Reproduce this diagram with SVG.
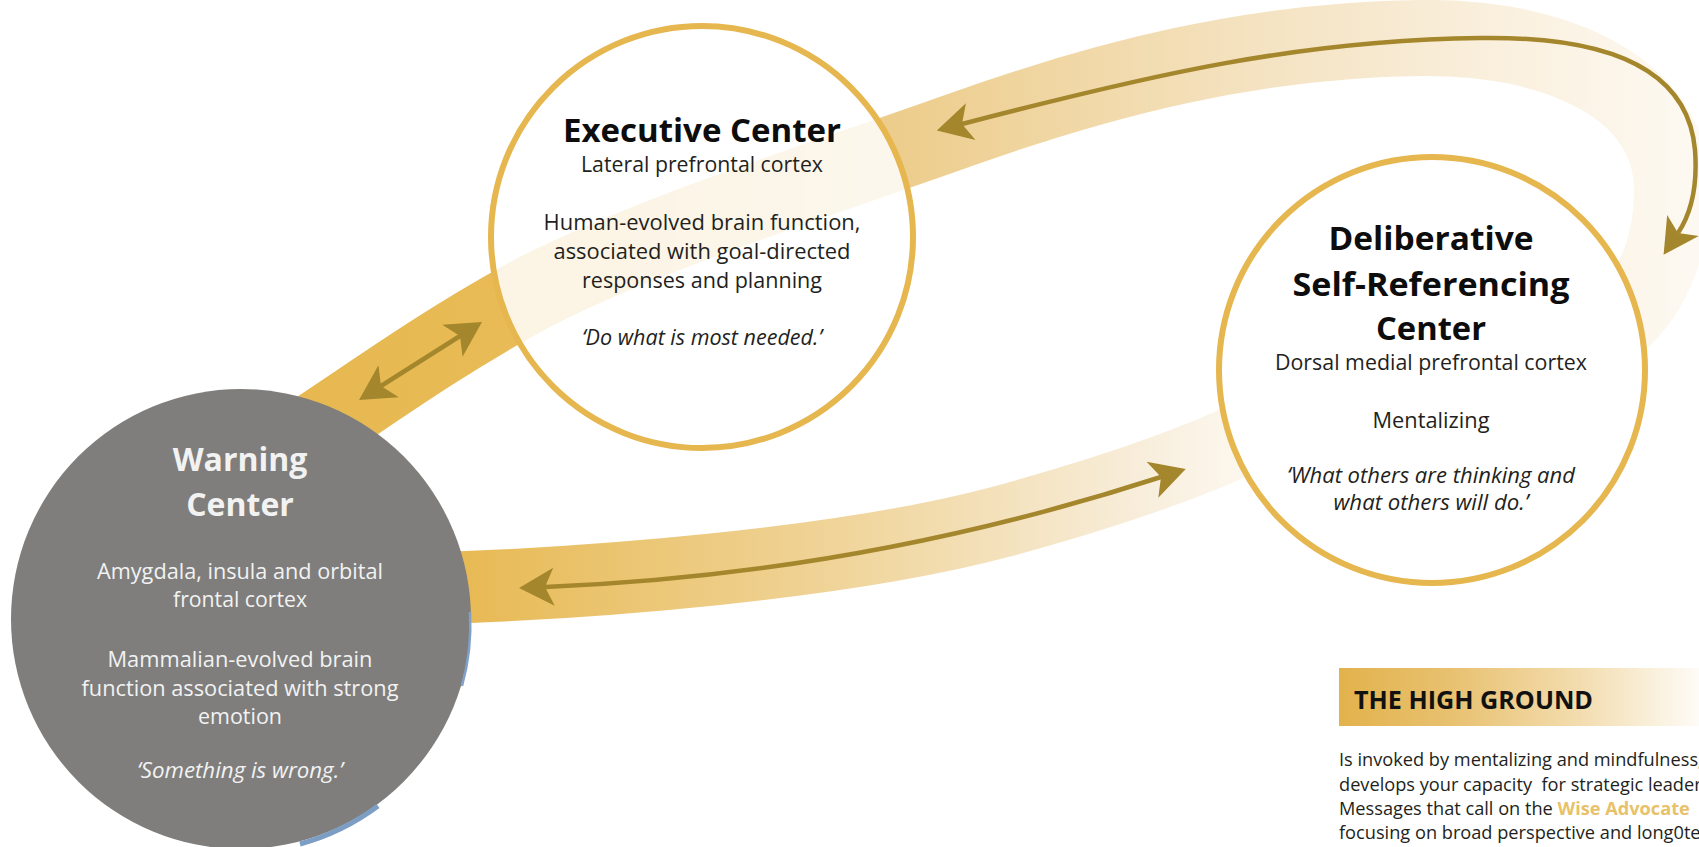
<svg xmlns="http://www.w3.org/2000/svg" width="1699" height="847" viewBox="0 0 1699 847">
<style>
.band{fill:none;stroke-linecap:butt}
.arrow{fill:none;stroke:#A4862C;stroke-width:4.5;marker-start:url(#ah);marker-end:url(#ah)}
.ring{stroke:#E6B64F;stroke-width:6}
.t{font-family:"Open Sans","Liberation Sans",sans-serif;text-anchor:middle}
.title{font-weight:700;font-size:32px;fill:#0d0d0d}
.body{font-size:21px;fill:#231f20}
.it{font-style:italic}
.w{fill:#f2f2f2}
.hg{font-family:"Open Sans","Liberation Sans",sans-serif;font-size:18.2px;fill:#231f20}
</style>
<defs>
<marker id="ah" viewBox="-10 -20 37 40" refX="0" refY="0" markerWidth="37" markerHeight="40" markerUnits="userSpaceOnUse" orient="auto-start-reverse">
<path d="M26,0 L-9,-19 L0,0 L-9,19 Z" fill="#A4862C"/>
</marker>
<linearGradient id="gTop" gradientUnits="userSpaceOnUse" x1="290" y1="0" x2="1700" y2="0">
<stop offset="0" stop-color="#E7B850"/>
<stop offset="0.15" stop-color="#E8BB56"/>
<stop offset="0.43" stop-color="#EDCD8C"/>
<stop offset="0.68" stop-color="#F4E2C0"/>
<stop offset="0.86" stop-color="#FAF0DE"/>
<stop offset="1" stop-color="#FDF9F2"/>
</linearGradient>
<linearGradient id="gLow" gradientUnits="userSpaceOnUse" x1="440" y1="0" x2="1262" y2="0">
<stop offset="0" stop-color="#E7B850"/>
<stop offset="0.5" stop-color="#F0D59C"/>
<stop offset="0.86" stop-color="#F8EEDC"/>
<stop offset="1" stop-color="#FDF9F2"/>
</linearGradient>
<linearGradient id="gHg" gradientUnits="userSpaceOnUse" x1="1339" y1="0" x2="1712" y2="0">
<stop offset="0" stop-color="#E2B24C"/>
<stop offset="0.3" stop-color="#E8C170"/>
<stop offset="0.65" stop-color="#F3DDB0"/>
<stop offset="1" stop-color="#FFFFFF"/>
</linearGradient>
</defs>

<g id="connectors">
<path class="band" stroke="url(#gTop)" stroke-width="76" d="M 290 447 C 370 395, 430 350, 520 300 C 628 240, 820 180, 960 130 C 1100 80, 1250 40, 1420 38 C 1560 36, 1672 90, 1672 190 C 1672 250, 1650 300, 1610 330"/>
<path class="band" stroke="url(#gLow)" stroke-width="72" d="M 380 590 C 600 585, 850 562, 1000 522 C 1100 495, 1190 465, 1262 430"/>
<path class="arrow" stroke-width="5" d="M 381 386 L 460 336"/>
<path class="arrow" d="M 962 124 C 1150 75, 1300 40, 1480 38 C 1610 36, 1688 70, 1695 150 C 1698 190, 1690 215, 1678 233"/>
<path class="arrow" d="M 545 587 C 720 580, 930 552, 1161 477"/>
</g>

<g id="warning-center">
<circle cx="241" cy="619" r="230" fill="#7F7E7C"/>
<path d="M 470 612 A 230 230 0 0 1 462 686" fill="none" stroke="#7FA0C8" stroke-width="2.5"/>
<path d="M 378 806 A 233 233 0 0 1 300 844" fill="none" stroke="#7C9DC4" stroke-width="5"/>
<text class="t title w" x="240" y="471">Warning</text>
<text class="t title w" x="240" y="516">Center</text>
<text class="t body w" x="240" y="579" textLength="286" lengthAdjust="spacingAndGlyphs">Amygdala, insula and orbital</text>
<text class="t body w" x="240" y="607" textLength="134" lengthAdjust="spacingAndGlyphs">frontal cortex</text>
<text class="t body w" x="240" y="667" textLength="265" lengthAdjust="spacingAndGlyphs">Mammalian-evolved brain</text>
<text class="t body w" x="240" y="696" textLength="317" lengthAdjust="spacingAndGlyphs">function associated with strong</text>
<text class="t body w" x="240" y="724" textLength="84" lengthAdjust="spacingAndGlyphs">emotion</text>
<text class="t body w it" x="240" y="778" textLength="206" lengthAdjust="spacingAndGlyphs">‘Something is wrong.’</text>
</g>

<g id="executive-center">
<circle class="ring" cx="702" cy="237" r="211" fill="#FFFFFF" fill-opacity="0.84"/>
<text class="t title" x="702" y="142" textLength="278" lengthAdjust="spacingAndGlyphs">Executive Center</text>
<text class="t body" x="702" y="172" textLength="242" lengthAdjust="spacingAndGlyphs">Lateral prefrontal cortex</text>
<text class="t body" x="702" y="230" textLength="317" lengthAdjust="spacingAndGlyphs">Human-evolved brain function,</text>
<text class="t body" x="702" y="259" textLength="297" lengthAdjust="spacingAndGlyphs">associated with goal-directed</text>
<text class="t body" x="702" y="288" textLength="240" lengthAdjust="spacingAndGlyphs">responses and planning</text>
<text class="t body it" x="702" y="345" textLength="240" lengthAdjust="spacingAndGlyphs">‘Do what is most needed.’</text>
</g>

<g id="deliberative-center">
<circle class="ring" cx="1432" cy="370" r="213" fill="#FFFFFF"/>
<text class="t title" x="1431" y="250" textLength="205" lengthAdjust="spacingAndGlyphs">Deliberative</text>
<text class="t title" x="1431" y="296" textLength="277" lengthAdjust="spacingAndGlyphs">Self-Referencing</text>
<text class="t title" x="1431" y="340" textLength="110" lengthAdjust="spacingAndGlyphs">Center</text>
<text class="t body" x="1431" y="370" textLength="312" lengthAdjust="spacingAndGlyphs">Dorsal medial prefrontal cortex</text>
<text class="t body" x="1431" y="428" textLength="117" lengthAdjust="spacingAndGlyphs">Mentalizing</text>
<text class="t body it" x="1431" y="483" textLength="288" lengthAdjust="spacingAndGlyphs">‘What others are thinking and</text>
<text class="t body it" x="1431" y="510" textLength="195" lengthAdjust="spacingAndGlyphs">what others will do.’</text>
</g>

<g id="high-ground">
<rect x="1339" y="668" width="360" height="58" fill="url(#gHg)"/>
<text x="1354" y="709" font-family="Open Sans, Liberation Sans, sans-serif" font-weight="700" font-size="25.5" fill="#111111" textLength="239" lengthAdjust="spacingAndGlyphs">THE HIGH GROUND</text>
<text class="hg" x="1339" y="766">Is invoked by mentalizing and mindfulness;</text>
<text class="hg" x="1339" y="791">develops your capacity&#160; for strategic leaders</text>
<text class="hg" x="1339" y="815">Messages that call on the <tspan font-weight="700" fill="#E8C26A">Wise Advocate</tspan></text>
<text class="hg" x="1339" y="839">focusing on broad perspective and long0te</text>
</g>
</svg>
